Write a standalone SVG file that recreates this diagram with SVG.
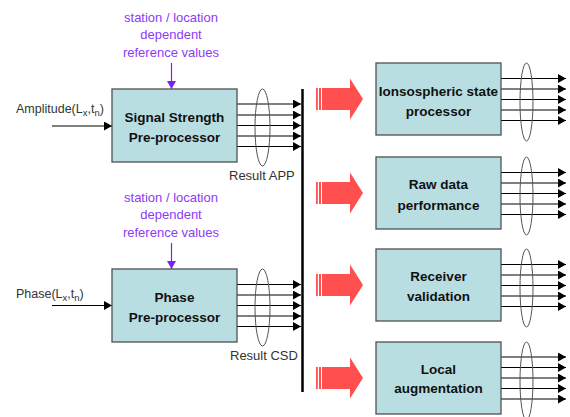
<svg xmlns="http://www.w3.org/2000/svg" width="570" height="417" viewBox="0 0 570 417">
<style>
.box{fill:#B9DEE1;stroke:#505050;stroke-width:1.3}
.bl{font-family:"Liberation Sans",Arial,sans-serif;font-weight:bold;font-size:13.5px;fill:#111;text-anchor:middle}
.pu{font-family:"Liberation Sans",Arial,sans-serif;font-size:13px;fill:#8A3CF5;text-anchor:middle}
.lb{font-family:"Liberation Sans",Arial,sans-serif;font-size:13px;fill:#333}
.in{font-family:"Liberation Sans",Arial,sans-serif;font-size:12.5px;fill:#333}
.ln{stroke:#000;stroke-width:1.2;fill:none;marker-end:url(#ah)}
.pl{stroke:#7A22F0;stroke-width:1.2;fill:none;marker-end:url(#ph)}
.el{fill:none;stroke:#555;stroke-width:1}
.ra{fill:#FF4F4F}
</style>
<defs>
<marker id="ah" markerWidth="8" markerHeight="9" refX="8" refY="4.5" orient="auto" markerUnits="userSpaceOnUse"><path d="M0,0 L8,4.5 L0,9 z" fill="#000"/></marker>
<marker id="ph" markerWidth="8" markerHeight="9" refX="8" refY="4.5" orient="auto" markerUnits="userSpaceOnUse"><path d="M0,0 L8,4.5 L0,9 z" fill="#7A22F0"/></marker>
</defs>

<g id="connectors">
  <!-- inputs -->
  <line class="ln" x1="52" y1="126" x2="112" y2="126"/>
  <line class="ln" x1="52" y1="305.5" x2="112" y2="305.5"/>
  <line class="pl" x1="171.5" y1="63" x2="171.5" y2="89"/>
  <line class="pl" x1="171.5" y1="243" x2="171.5" y2="269"/>
  <!-- left outputs -->
  <line class="ln" x1="237" y1="104" x2="301" y2="104"/>
  <line class="ln" x1="237" y1="115" x2="301" y2="115"/>
  <line class="ln" x1="237" y1="125.5" x2="301" y2="125.5"/>
  <line class="ln" x1="237" y1="136" x2="301" y2="136"/>
  <line class="ln" x1="237" y1="146.5" x2="301" y2="146.5"/>
  <line class="ln" x1="237" y1="284.5" x2="301" y2="284.5"/>
  <line class="ln" x1="237" y1="295" x2="301" y2="295"/>
  <line class="ln" x1="237" y1="305.5" x2="301" y2="305.5"/>
  <line class="ln" x1="237" y1="316" x2="301" y2="316"/>
  <line class="ln" x1="237" y1="326.5" x2="301" y2="326.5"/>
  <ellipse class="el" cx="262.5" cy="127.5" rx="7.5" ry="38.5"/>
  <ellipse class="el" cx="262.5" cy="307.5" rx="7.5" ry="38.5"/>
  <!-- bus -->
  <line x1="302.5" y1="89" x2="302.5" y2="392" stroke="#000" stroke-width="2.5"/>
  <!-- red arrows -->
  <g id="red-arrows">
    <g transform="translate(0,99)">
      <rect class="ra" x="316" y="-11" width="1.8" height="22"/><rect class="ra" x="319" y="-11" width="2" height="22"/>
      <path class="ra" d="M322,-11 H350 V-20.5 L363,0 L350,20.5 V11 H322 Z"/>
    </g>
    <g transform="translate(0,193)">
      <rect class="ra" x="316" y="-11" width="1.8" height="22"/><rect class="ra" x="319" y="-11" width="2" height="22"/>
      <path class="ra" d="M322,-11 H350 V-20.5 L363,0 L350,20.5 V11 H322 Z"/>
    </g>
    <g transform="translate(0,285)">
      <rect class="ra" x="316" y="-11" width="1.8" height="22"/><rect class="ra" x="319" y="-11" width="2" height="22"/>
      <path class="ra" d="M322,-11 H350 V-20.5 L363,0 L350,20.5 V11 H322 Z"/>
    </g>
    <g transform="translate(0,378)">
      <rect class="ra" x="316" y="-11" width="1.8" height="22"/><rect class="ra" x="319" y="-11" width="2" height="22"/>
      <path class="ra" d="M322,-11 H350 V-20.5 L363,0 L350,20.5 V11 H322 Z"/>
    </g>
  </g>
  <!-- right outputs -->
  <g transform="translate(0,63)">
    <line class="ln" x1="501" y1="15.5" x2="566" y2="15.5"/><line class="ln" x1="501" y1="26" x2="566" y2="26"/><line class="ln" x1="501" y1="36.5" x2="566" y2="36.5"/><line class="ln" x1="501" y1="47" x2="566" y2="47"/><line class="ln" x1="501" y1="57.5" x2="566" y2="57.5"/>
    <ellipse class="el" cx="526.5" cy="39" rx="6.5" ry="39"/>
  </g>
  <g transform="translate(0,157)">
    <line class="ln" x1="501" y1="15.5" x2="566" y2="15.5"/><line class="ln" x1="501" y1="26" x2="566" y2="26"/><line class="ln" x1="501" y1="36.5" x2="566" y2="36.5"/><line class="ln" x1="501" y1="47" x2="566" y2="47"/><line class="ln" x1="501" y1="57.5" x2="566" y2="57.5"/>
    <ellipse class="el" cx="526.5" cy="39" rx="6.5" ry="39"/>
  </g>
  <g transform="translate(0,249)">
    <line class="ln" x1="501" y1="15.5" x2="566" y2="15.5"/><line class="ln" x1="501" y1="26" x2="566" y2="26"/><line class="ln" x1="501" y1="36.5" x2="566" y2="36.5"/><line class="ln" x1="501" y1="47" x2="566" y2="47"/><line class="ln" x1="501" y1="57.5" x2="566" y2="57.5"/>
    <ellipse class="el" cx="526.5" cy="39" rx="6.5" ry="39"/>
  </g>
  <g transform="translate(0,342)">
    <line class="ln" x1="501" y1="15" x2="566" y2="15"/><line class="ln" x1="501" y1="25.5" x2="566" y2="25.5"/><line class="ln" x1="501" y1="36" x2="566" y2="36"/><line class="ln" x1="501" y1="46.5" x2="566" y2="46.5"/><line class="ln" x1="501" y1="57" x2="566" y2="57"/>
    <ellipse class="el" cx="526.5" cy="39" rx="6.5" ry="39"/>
  </g>
</g>

<g id="ref1">
  <text class="pu" x="171" y="21.5">station / location</text>
  <text class="pu" x="171" y="39">dependent</text>
  <text class="pu" x="171" y="56.5">reference values</text>
</g>
<g id="ref2">
  <text class="pu" x="171" y="201.5">station / location</text>
  <text class="pu" x="171" y="219">dependent</text>
  <text class="pu" x="171" y="236.5">reference values</text>
</g>
<g id="amplitude">
  <text class="in" x="16" y="112.5">Amplitude(L<tspan font-size="9.5" dy="3">x</tspan><tspan dy="-3">,t</tspan><tspan font-size="9.5" dy="3">n</tspan><tspan dy="-3">)</tspan></text>
</g>
<g id="phase">
  <text class="in" x="16" y="297.5">Phase(L<tspan font-size="9.5" dy="3">x</tspan><tspan dy="-3">,t</tspan><tspan font-size="9.5" dy="3">n</tspan><tspan dy="-3">)</tspan></text>
</g>
<g id="signal-strength">
  <rect class="box" x="112" y="89" width="125" height="73"/>
  <text class="bl" x="174.5" y="122">Signal Strength</text>
  <text class="bl" x="174.5" y="141.5">Pre-processor</text>
</g>
<g id="phase-pre">
  <rect class="box" x="112" y="269" width="125" height="73"/>
  <text class="bl" x="174.5" y="302">Phase</text>
  <text class="bl" x="174.5" y="321.5">Pre-processor</text>
</g>
<g id="result-app"><text class="lb" x="229" y="180">Result APP</text></g>
<g id="result-csd"><text class="lb" x="230" y="360">Result CSD</text></g>
<g id="ionospheric">
  <rect class="box" x="376" y="63" width="125" height="72"/>
  <text class="bl" x="438.5" y="95.5">Ionsospheric state</text>
  <text class="bl" x="438.5" y="116">processor</text>
</g>
<g id="rawdata">
  <rect class="box" x="376" y="157" width="125" height="72"/>
  <text class="bl" x="438.5" y="189">Raw data</text>
  <text class="bl" x="438.5" y="209.5">performance</text>
</g>
<g id="receiver">
  <rect class="box" x="376" y="249" width="125" height="72"/>
  <text class="bl" x="438.5" y="281">Receiver</text>
  <text class="bl" x="438.5" y="301">validation</text>
</g>
<g id="local">
  <rect class="box" x="376" y="342" width="125" height="72"/>
  <text class="bl" x="438.5" y="373.5">Local</text>
  <text class="bl" x="438.5" y="393">augmentation</text>
</g>
</svg>
